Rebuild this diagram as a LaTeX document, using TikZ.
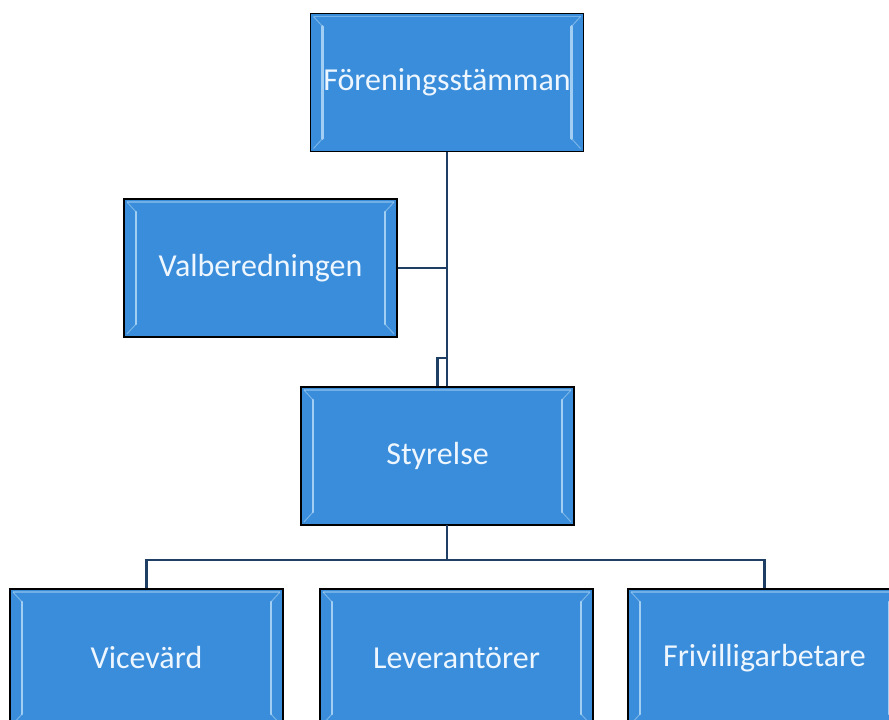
\documentclass[tikz,border=0pt]{standalone}
\usepackage{fontspec}
\setmainfont{Carlito}
\definecolor{boxblue}{HTML}{3A8DDA}
\definecolor{bevel}{HTML}{B4DAF7}
\definecolor{linkc}{HTML}{1E3F63}
\definecolor{txtc}{HTML}{EEF6FF}
\tikzset{
  orgbox/.style={draw=black, line width=1.4pt, fill=boxblue, text=txtc,
    minimum width=273pt, minimum height=138pt, inner sep=0pt,
    font=\fontsize{32}{38}\selectfont,
    path picture={
      \draw[bevel, opacity=0.85, line width=2.6pt, line cap=round]
        ([xshift=12pt,yshift=-13pt]path picture bounding box.north west) --
        ([xshift=12pt,yshift=13pt]path picture bounding box.south west);
      \draw[bevel, opacity=0.85, line width=2.6pt, line cap=round]
        ([xshift=-12pt,yshift=-13pt]path picture bounding box.north east) --
        ([xshift=-12pt,yshift=13pt]path picture bounding box.south east);
      \draw[bevel, opacity=0.5, line width=1pt]
        ([xshift=3pt,yshift=-3pt]path picture bounding box.north west) --
        ([xshift=12pt,yshift=-13pt]path picture bounding box.north west);
      \draw[bevel, opacity=0.5, line width=1pt]
        ([xshift=-3pt,yshift=-3pt]path picture bounding box.north east) --
        ([xshift=-12pt,yshift=-13pt]path picture bounding box.north east);
      \draw[bevel, opacity=0.5, line width=1pt]
        ([xshift=3pt,yshift=3pt]path picture bounding box.south west) --
        ([xshift=12pt,yshift=13pt]path picture bounding box.south west);
      \draw[bevel, opacity=0.5, line width=1pt]
        ([xshift=-3pt,yshift=3pt]path picture bounding box.south east) --
        ([xshift=-12pt,yshift=13pt]path picture bounding box.south east);
      \draw[bevel, opacity=0.45, line width=1.4pt]
        ([xshift=3pt,yshift=-3pt]path picture bounding box.north west) --
        ([xshift=-3pt,yshift=-3pt]path picture bounding box.north east);
    }},
  link/.style={draw=linkc, line width=2.2pt}
}
\begin{document}
\begin{tikzpicture}[x=1pt,y=-1pt]
\clip (0,0) rectangle (889,720);
\fill[white] (0,0) rectangle (889,720);
\node[orgbox] (F) at (447,82.5) {Föreningsstämman};
\node[orgbox] (V) at (260.5,268) {Valberedningen};
\node[orgbox] (S) at (437.5,456) {Styrelse};
\node[orgbox] (Vic) at (146.5,658) {Vicevärd};
\node[orgbox] (Lev) at (456.5,658) {Leverantörer};
\node[orgbox] (Fri) at (764.5,658) {Frivilligarbetare};
\coordinate (j) at (446,358);
\coordinate (b) at (447,560);
\coordinate (ss) at (447,525);
\draw[link] (F.south) -- (F.south |- S.north);
\draw[link] (V.east) -- (V.east -| F.south);
\draw[link] (S.north) |- (j);
\draw[link] (ss) -- (b);
\draw[link] (Vic.north) |- (b) -| (Fri.north);
\end{tikzpicture}
\end{document}
